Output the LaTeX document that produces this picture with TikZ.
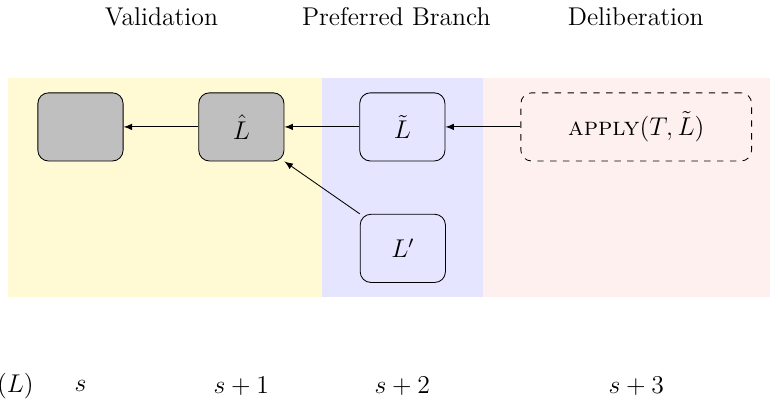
\documentclass[tikz,border=0pt]{standalone}
\usepackage{amsmath,amssymb}
\usetikzlibrary{positioning}
\definecolor{valcol}{RGB}{255,250,212}

\begin{document}
\begin{tikzpicture}[every node/.style={font=\large},
   state/.style={draw,rounded corners=5pt,minimum width=1.4cm,minimum height=1.12cm},
   done/.style={state,fill=gray!50},
   plan/.style={state,dashed,minimum width=3.79cm},
   >=latex]
\useasboundingbox (0,0) rectangle (12.78,6.65);
% phases
\fill[valcol] (0.131,1.777) rectangle (5.284,5.375);
\fill[blue!10] (5.284,1.777) rectangle (7.927,5.375);
\fill[red!6] (7.927,1.777) rectangle (12.643,5.375);
\node (val) at (2.652,6.371) {Validation};
\node (pref) at (6.511,6.371) {Preferred Branch};
\node (delib) at (10.443,6.371) {Deliberation};
% states
\node[done] (old) at (1.322,4.565) {};
\node[done] (lhat) at (3.965,4.565) {$\hat{L}$};
\node[state] (ltil) at (6.609,4.565) {$\tilde{L}$};
\node[state] (lp) at (6.617,2.570) {$L'$};
\node[plan] (app) at (10.451,4.565) {$\textsc{apply}(T,\tilde{L})$};
\draw[->] (lhat) -- (old);
\draw[->] (ltil) -- (lhat);
\draw[->] (app) -- (ltil);
\draw[->] (lp.north west) -- (lhat.south east);
% steps
\node[anchor=east,inner xsep=0pt] (lab) at (0.56,0.31) {$(L)$};
\node (s0) at (old |- lab) {$s$};
\node (s1) at (lhat |- lab) {$s+1$};
\node (s2) at (ltil |- lab) {$s+2$};
\node (s3) at (app |- lab) {$s+3$};
\end{tikzpicture}
\end{document}
